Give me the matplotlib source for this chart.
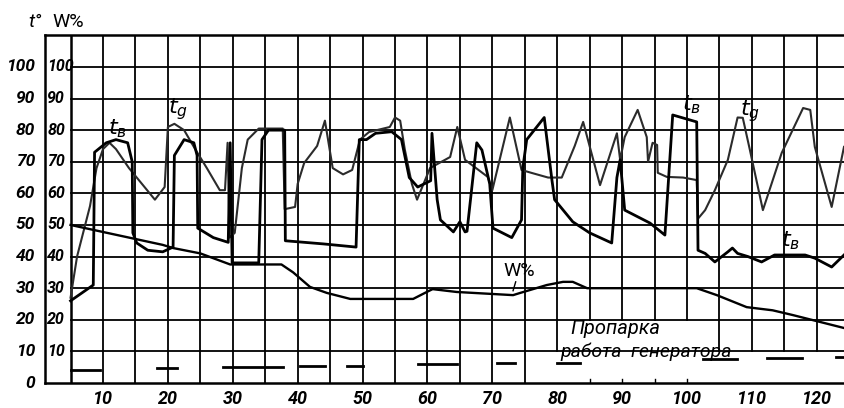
import matplotlib.pyplot as plt
import matplotlib as mpl

# t_v (thick black, step-like)
tv_x = [5, 8.5, 8.7, 10.5, 12, 13.8, 14.5, 14.6, 15.2, 16.9, 19.2, 20.8, 21, 22.5, 24, 24.5,
        24.6, 27, 29.3, 29.6, 29.9, 34, 34.5, 35.5, 38, 38.1, 44, 49, 49.5, 50.6, 52, 54.5,
        56, 57.2, 58.5, 60.5, 60.7, 61.5, 62, 64, 65, 65.8, 66.1, 67.6, 68.4, 69.6, 70.1, 73,
        74.5, 74.7, 75.3, 78, 79.2, 79.6, 82.4, 85, 88.4, 89.2, 89.7, 90.4, 94.3, 96.6, 97.8,
        101.5, 101.7, 102.8, 104.3, 106.3, 107, 107.8, 109.4, 111.5, 113.5, 118.2, 119.7,
        122.3, 124.2]
tv_y = [26, 31, 73, 76, 77, 76, 70, 47.5, 44.3, 42, 41.5, 43, 72, 77, 76, 72,
        49, 46, 44.5, 76, 38, 38, 77, 80, 80, 45, 44, 43, 77, 77, 79, 79.5,
        77, 65, 62, 64, 79, 58, 51.6, 47.8, 51, 47.8, 48, 76, 73.7, 63, 49, 46,
        51.6, 68, 77, 84, 64, 58, 51, 47.5, 44.3, 65, 70.6, 54.7, 50.6, 46.8, 84.8,
        82.6, 42, 41, 38.3, 41.5, 42.7, 41, 40, 38.3, 40.5, 40.5, 39.5,
        36.7, 40.5]

# t_g (thinner, smoother)
tg_x = [5, 6, 7, 8, 9, 10, 11, 12, 14, 16, 18, 19.5, 20, 21, 22.5, 24.2, 26, 28, 28.8,
        29.2, 29.5, 30.3, 31.4, 32.3, 34, 37.7, 38, 39.6, 40, 41, 43, 44.2, 45.4, 47, 48.4,
        49.6, 51, 54.2, 55, 55.8, 56.5, 57.6, 58.4, 60.4, 63.5, 64.6, 65.8, 69.3, 70,
        72.7, 74.5, 76, 78.6, 80.7, 82.7, 84, 86.6, 89.2, 89.7, 90.4, 92.4, 93.8, 94,
        94.7, 95.4, 95.5, 96.9, 99.4, 101.5, 101.7, 102.8, 104.3, 106.3, 107.8, 108.6,
        109.7, 111.7, 114.6, 117.9, 119, 119.7, 122.3, 124.2]
tg_y = [27, 40, 48, 56, 68, 74, 76, 74, 68, 63, 58, 62, 81, 82, 80, 74, 68, 61, 61,
        76, 46, 47.5, 68, 77, 80.5, 80.5, 55, 55.7, 63, 69.6, 75, 83, 68, 66, 67.4,
        77, 79.4, 81, 84, 83, 74, 63, 58, 68, 71.5, 81, 70.6, 65.2, 61,
        84, 67.4, 66.5, 65, 65, 75, 82.6, 62.6, 79, 70.6, 77.8, 86.4, 77.8, 70,
        76, 75.3, 66.5, 65.2, 65, 64.2, 52, 54.7, 61, 70.6, 84, 83.9,
        73.7, 54.7, 72.8, 87, 86.4, 74.7, 55.7, 74.7]

# W% moisture
w_x = [5, 9.5, 19.2, 20.8, 25, 29.6, 37.5, 39.3, 41.9, 44.5, 48.1, 57.8, 59.9, 60.8,
       64.5, 73.2, 74.3, 78.4, 80.9, 82.4, 84.6, 101.5, 104.6, 109.2, 113.2, 116.3, 124.2]
w_y = [50, 48, 43.7, 42.7, 41, 37.5, 37.5, 35, 30.4, 28.5, 26.6, 26.6, 28.8, 29.7,
       28.8, 27.8, 28.5, 31, 32, 32, 30, 30, 27.8, 24, 23, 21.5, 17.4]

# generator running periods (start, end, level)
gen_start = [5, 18.3, 28.5, 40.4, 47.6, 58.5, 70.7, 80, 102.5, 112.3, 123]
gen_end = [9.5, 21.4, 37.7, 44.2, 50, 64.5, 73.5, 83.5, 107.7, 117.8, 124.2]
gen_level = [4.1, 4.7, 5, 5.3, 5.3, 6, 6.3, 6.3, 7.5, 7.9, 8.2]

x_ticks = [10, 20, 30, 40, 50, 60, 70, 80, 90, 100, 110, 120]
y_ticks = [0, 10, 20, 30, 40, 50, 60, 70, 80, 90, 100]

mpl.rcParams['font.family'] = ['Roboto', 'DejaVu Sans']
mpl.rcParams['font.style'] = 'italic'
mpl.rcParams['mathtext.fontset'] = 'custom'
mpl.rcParams['mathtext.it'] = 'DejaVu Sans:italic'
mpl.rcParams['mathtext.rm'] = 'DejaVu Sans:italic'

fig = plt.figure(figsize=(8.44, 4.08), dpi=100)
ax = fig.add_axes([45 / 844, 25 / 408, 799 / 844, 348 / 408])
ax.set_xlim(1.06, 124.2)
ax.set_ylim(0, 110.1)

ax.spines['right'].set_visible(False)
for s in ['left', 'top', 'bottom']:
    ax.spines[s].set_linewidth(1.8)

# grid
for gx in range(5, 125, 5):
    if 85 <= gx <= 100:
        lo = 20
    elif gx >= 80:
        lo = 10
    else:
        lo = 0
    ax.plot([gx, gx], [lo, 110.1], color='black', lw=1.8 if gx == 5 else 1.3, zorder=1)
for gy in range(10, 101, 10):
    ax.plot([5, 124.2], [gy, gy], color='black', lw=1.3, zorder=1)
for gx in [85, 90, 95, 100]:
    ax.plot([gx, gx], [0, 1.2], color='black', lw=1.0)

ax.plot(tg_x, tg_y, color='#2b2b2b', lw=1.5, zorder=3)
ax.plot(tv_x, tv_y, color='black', lw=2.0, zorder=4)
ax.plot(w_x, w_y, color='black', lw=1.7, zorder=3)
for a, b, c in zip(gen_start, gen_end, gen_level):
    ax.plot([a, b], [c, c], color='black', lw=2.0, zorder=3)

ax.set_xticks(x_ticks)
ax.set_xticklabels([str(v) for v in x_ticks], fontsize=13, style='italic',
                   fontweight='bold')
ax.tick_params(axis='x', length=0, pad=5)
ax.set_yticks([])

for v in y_ticks:
    ax.text(-0.0125, v, str(v), transform=ax.get_yaxis_transform(), ha='right',
            va='center', fontsize=12.5, style='italic', fontweight='bold')
    if v > 0:
        ax.text(1.4, v, str(v), ha='left', va='center', fontsize=11.5, style='italic',
                fontweight='bold')

fig.text(35 / 844, 1 - 22 / 408, 't°', ha='center', va='center', fontsize=14, style='italic')
fig.text(68 / 844, 1 - 22 / 408, 'W%', ha='center', va='center', fontsize=14,
         style='normal')

ax.text(12.3, 80.5, '$t_в$', fontsize=16, ha='center', va='center')
ax.text(21.6, 86.5, '$t_g$', fontsize=16, ha='center', va='center')
ax.text(100.7, 88, '$t_в$', fontsize=16, ha='center', va='center')
ax.text(109.7, 86, '$t_g$', fontsize=16, ha='center', va='center')
ax.text(116, 45, '$t_в$', fontsize=16, ha='center', va='center')
ax.text(74.1, 35.4, 'W%', fontsize=14, ha='center', va='center', style='normal')
ax.plot([73.6, 73.2], [32, 29.2], color='black', lw=1.0)

ax.text(82, 17.4, 'Пропарка', fontsize=14.5, ha='left', va='center', style='italic')
ax.text(80.5, 7.0, 'работа  генератора', fontsize=14, ha='left', va='bottom', style='italic')

fig.savefig('out.png', dpi=100)
